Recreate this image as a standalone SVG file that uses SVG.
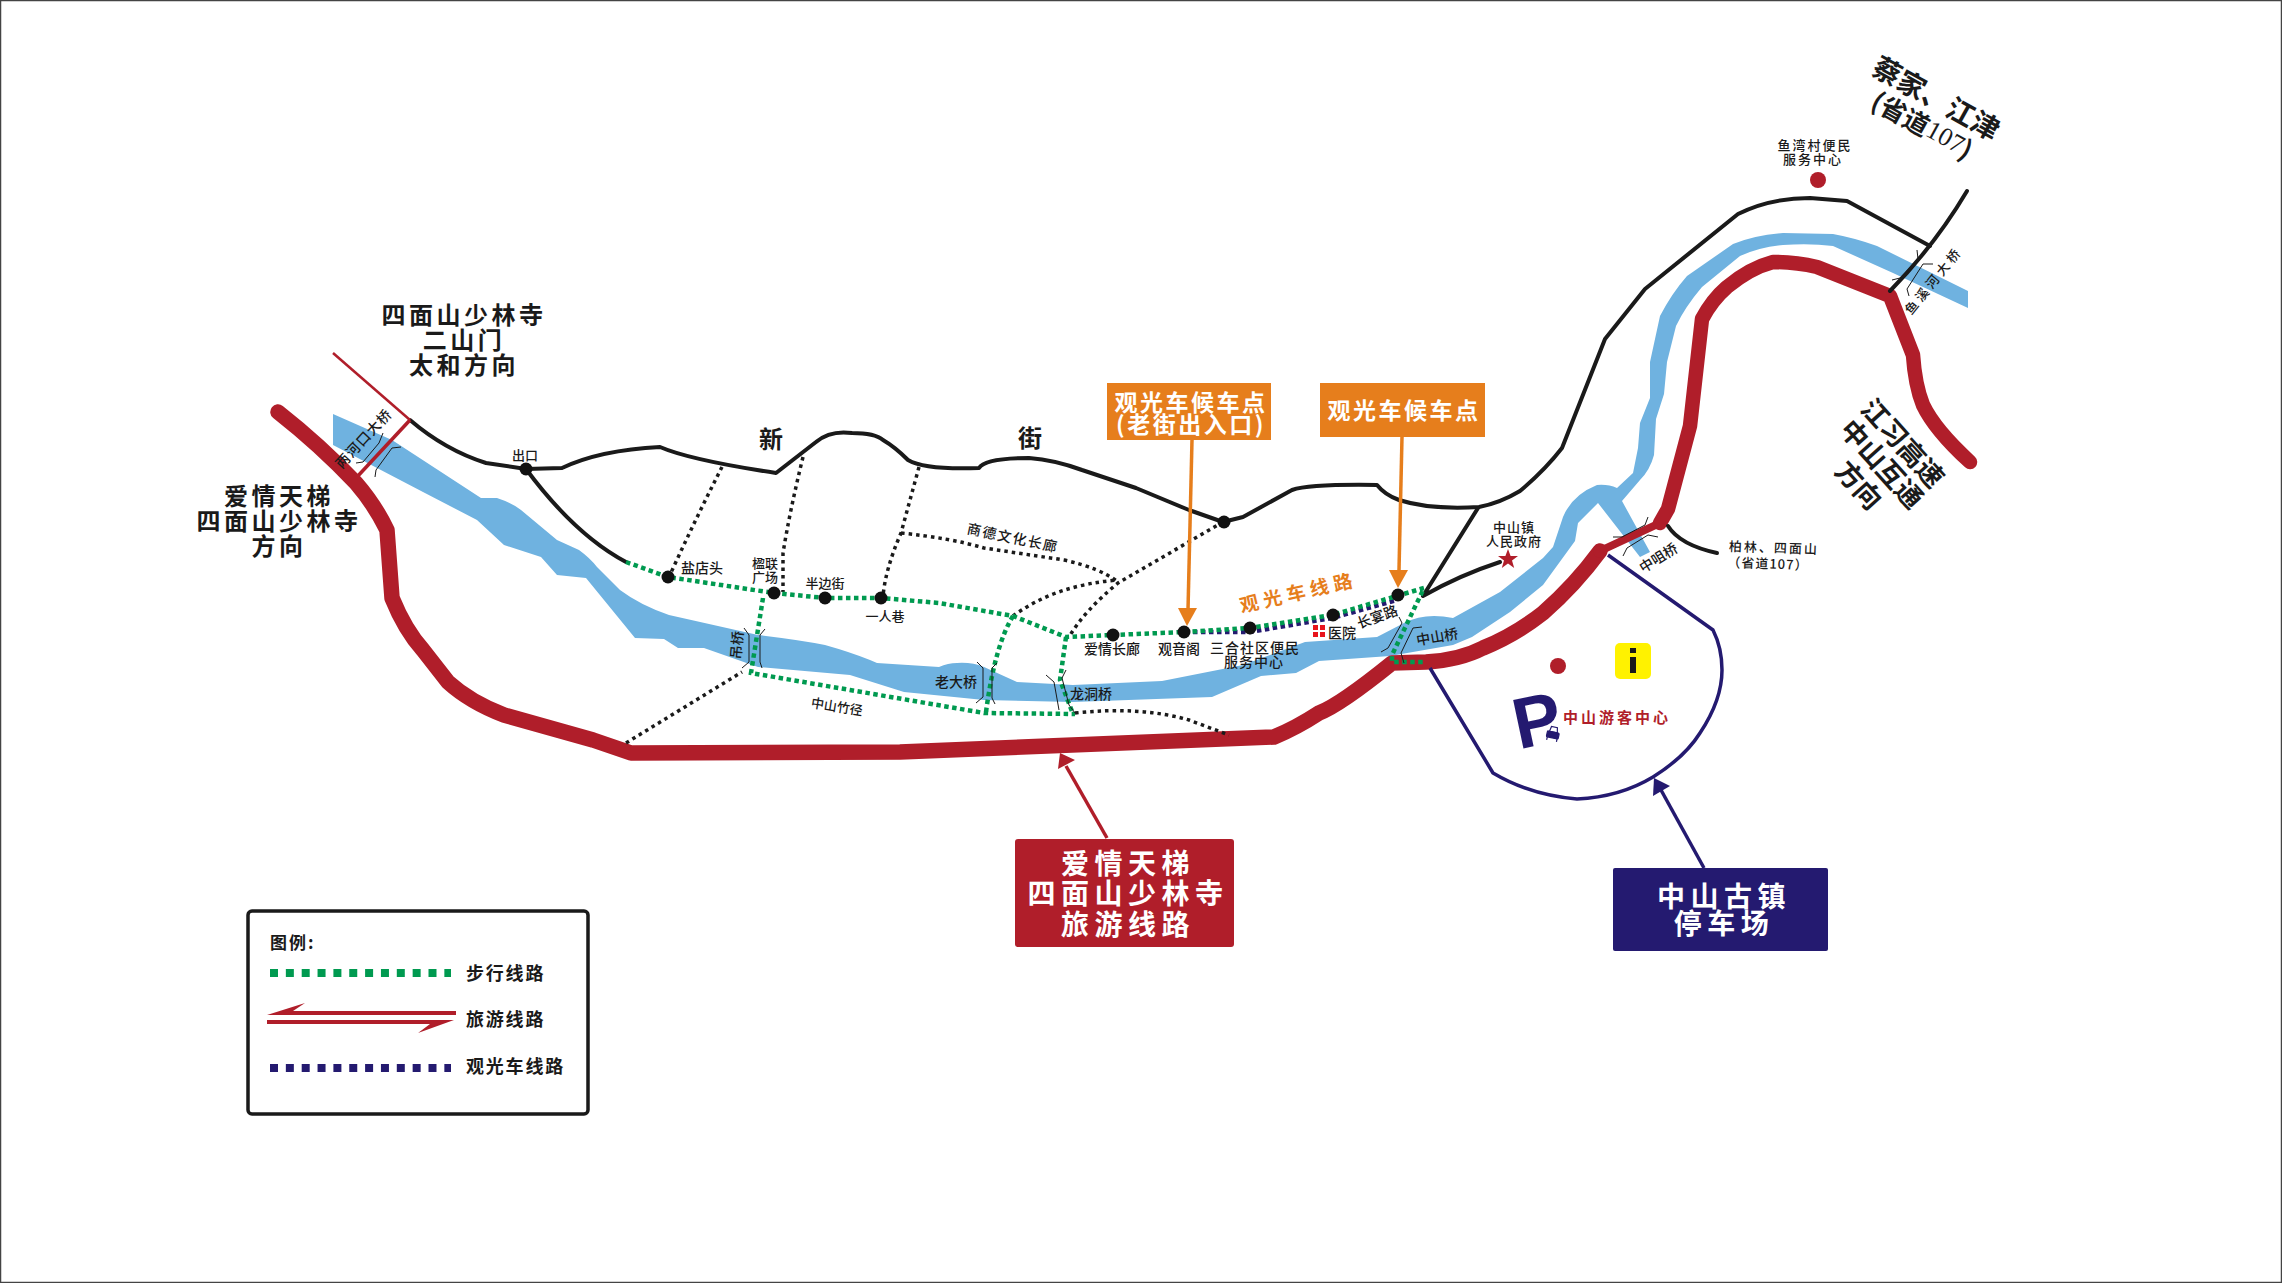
<svg xmlns="http://www.w3.org/2000/svg" width="2282" height="1283" viewBox="0 0 2282 1283">
<style>
text{font-family:"Noto Sans CJK SC","Liberation Sans",sans-serif;text-anchor:middle;dominant-baseline:central;fill:#1a1a1a}
.s{font-weight:500}
.b{font-weight:700}
.w{fill:#fff;font-weight:700}
.l{text-anchor:start;font-weight:700;font-size:18px;letter-spacing:1.8px}
.road{fill:none;stroke:#1a1a1a;stroke-width:4;stroke-linejoin:round;stroke-linecap:round}
.red{fill:none;stroke:#b01e2a;stroke-linejoin:round;stroke-linecap:round}
.gd{fill:none;stroke:#009a50;stroke-width:4.5;stroke-dasharray:4.5 3.5}
.kd{fill:none;stroke:#1a1a1a;stroke-width:3.5;stroke-dasharray:3.5 4}
.nd{fill:none;stroke:#241a70;stroke-width:4.5;stroke-dasharray:4.5 3.5}
.br{fill:none;stroke:#1a1a1a;stroke-width:1}
.n{fill:#111}
.nv{fill:none;stroke:#241a70;stroke-width:3.5;stroke-linejoin:round}
</style>
<rect x="0.5" y="0.5" width="2281" height="1282" fill="#fff" stroke="#444" stroke-width="1.5"/>

<g id="river">
<path fill="#6fb2e0" d="M333,414 L392,440 L481,498 L497,498 Q512,503 521,510 L557,540 L579,550 Q590,558 597,567 L620,590 Q640,605 669,615 L758,635 Q800,640 825,645 Q850,652 870,660 L877,663 L939,667 Q948,663 957,663 Q972,662 984,667 L1017,682 L1073,685 L1162,681 L1243,665 L1305,642 L1377,637 L1404,623 Q1425,612 1453,618 L1500,592 L1543,558 L1553,547 L1563,517 Q1572,495 1597,485 Q1608,484 1617,488 L1633,473 L1638,448 L1640,423 L1650,398 L1650,362 L1660,316 Q1672,293 1687,276 L1733,244 Q1755,235 1783,233 L1833,234 Q1855,238 1877,246 L1968,291 L1968,308 L1893,273 L1833,246 Q1810,243 1783,245 Q1760,247 1740,256 L1702,287 Q1685,307 1676,326 L1667,362 L1664,394 L1656,419 L1654,455 Q1650,470 1640,480 L1622,501 L1650,552 L1640,557 L1598,503 L1578,523 L1575,541 L1543,585 L1510,612 L1472,637 L1453,645 L1390,656 L1319,661 L1296,673 L1261,676 L1212,697 L1073,702 L984,700 L904,692 L850,675 L758,667 L704,648 L678,648 L664,639 L635,638 L586,578 L557,575 L541,557 L504,545 L477,520 L423,492 L333,445 Z"/>
</g>

<g id="connectors">
<path class="red" stroke-width="15.5" stroke-linecap="butt" d="M278,412 Q320,445 356,483 Q375,505 387,530 L392,598 Q405,630 423,650 L448,682 Q470,702 504,715 L593,740 L631,753 L900,752 L1274,737 Q1296,728 1319,713 Q1340,705 1392,663 L1426,662 Q1460,660 1483,648 Q1515,635 1543,613 Q1575,585 1600,551"/>
<path class="red" stroke-width="8" d="M1600,551 L1660,523"/>
<circle cx="1600" cy="551" r="7" fill="#b01e2a"/>
<path class="red" stroke-width="14.5" d="M1660,523 L1668,509 L1690,426 L1702,319 Q1712,300 1727,287 Q1750,268 1773,262 Q1795,262 1817,267 L1890,296 L1913,355 Q1915,385 1923,405 Q1935,430 1970,462"/>
<path class="road" d="M410,420 Q445,450 486,463 L526,469 L562,468 Q600,450 660,447 Q690,460 776,473 L816,442 Q830,430 852,433 Q875,433 883,440 Q895,447 908,460 Q925,470 979,468 Q985,458 1029,458 Q1055,460 1082,470 L1136,488 L1189,510 L1223,522 L1243,517 L1292,490 Q1310,484 1377,485 Q1385,495 1399,500 Q1430,510 1479,507 Q1500,503 1520,491 Q1545,470 1562,448 L1605,339 L1645,289 L1738,214 Q1770,198 1810,198 L1847,201 L1930,246"/>
<path class="road" d="M526,469 Q575,535 626,562"/>
<path class="road" d="M1967,191 Q1935,245 1890,291"/>
<path class="road" d="M1668,526 Q1680,545 1717,553"/>
<path class="road" d="M1478,508 L1423,596 Q1460,575 1500,562"/>
<path d="M333,353 L410,420" stroke="#b01e2a" stroke-width="2.5" fill="none"/>
<path d="M410,420 L356,478" stroke="#b01e2a" stroke-width="3.5" fill="none"/>
<path class="kd" d="M722,467 Q695,520 669,577"/>
<path class="kd" d="M803,457 Q790,510 783,553 L783,592"/>
<path class="kd" d="M919,467 L901,533 Q885,570 883,597"/>
<path class="kd" d="M901,533 Q950,538 984,548 L1064,560 Q1100,568 1118,582"/>
<path class="kd" d="M1223,522 L1118,583 Q1085,610 1069,637"/>
<path class="kd" d="M1013,616 Q1055,585 1118,580"/>
<path class="kd" d="M1075,713 Q1140,706 1189,720 L1229,735"/>
<path class="kd" d="M626,743 L742,672"/>
<path class="nd" d="M1185,632 L1250,632 L1332,618 L1397,600"/>
<path class="gd" d="M626,562 L668,577 L774,593 L825,598 L881,598 L939,603 L1013,616 L1066,637 L1113,635 L1185,632 L1250,628 L1332,615 L1424,588 L1392,655 L1392,662 L1424,662"/>
<path class="gd" d="M763,598 L751,673 L850,690 L984,713 L1075,714"/>
<path class="gd" d="M1013,616 Q995,645 986,712"/>
<path class="gd" d="M1066,637 L1060,680 L1073,714"/>
<path class="br" d="M744,628 L749,635 L749,662 L742,668 M765,629 L760,635 L760,662 L762,668"/>
<path class="br" d="M977,662 L983,668 L983,697 L976,703 M997,663 L992,668 L992,698 L995,704"/>
<path class="br" d="M1046,675 L1054,682 L1059,710 M1066,670 L1062,678 L1069,705 L1075,713"/>
<path class="br" d="M1399,617 L1402,623 L1388,648 L1381,652 M1422,627 L1413,628 L1401,653 L1404,663"/>
<path class="br" d="M383,433 L379,443 L363,462 L356,463 M401,447 L392,448 L376,470 L375,477"/>
<path class="br" d="M1648,517 L1645,525 L1622,537 L1613,537 M1658,537 L1648,535 L1627,548 L1623,556"/>
<path class="br" d="M1917,250 L1918,259 L1900,278 L1892,280 M1933,264 L1923,264 L1907,289 L1909,296"/>
<path d="M1192,440 L1188,610" stroke="#e67e1c" stroke-width="3.5" fill="none"/>
<path d="M1178,608 L1197,608 L1187,626 Z" fill="#e67e1c"/>
<path d="M1402,437 L1399,570" stroke="#e67e1c" stroke-width="3.5" fill="none"/>
<path d="M1389,570 L1408,570 L1398,588 Z" fill="#e67e1c"/>
<path d="M1107,838 L1066,766" stroke="#b01e2a" stroke-width="3.5" fill="none"/>
<path d="M1060,753 L1075,760 L1058,769 Z" fill="#b01e2a"/>
<path d="M1704,868 L1661,790" stroke="#241a70" stroke-width="3.5" fill="none"/>
<path d="M1654,778 L1670,786 L1653,796 Z" fill="#241a70"/>
</g>

<g id="stops">
<circle class="n" cx="526" cy="469" r="6.5"/><circle class="n" cx="668" cy="577" r="6.5"/><circle class="n" cx="774" cy="593" r="6.5"/><circle class="n" cx="825" cy="598" r="6.5"/><circle class="n" cx="881" cy="598" r="6.5"/><circle class="n" cx="1113" cy="635" r="6.5"/><circle class="n" cx="1184" cy="632" r="6.5"/><circle class="n" cx="1250" cy="628" r="6.5"/><circle class="n" cx="1333" cy="615" r="6.5"/><circle class="n" cx="1398" cy="595" r="6.5"/><circle class="n" cx="1224" cy="522" r="6.5"/>
</g>

<g id="labels-small" class="s">
<text x="525" y="454" font-size="13">出口</text>
<text x="702" y="567" font-size="14">盐店头</text>
<text x="765" y="562" font-size="13">楹联</text><text x="765" y="576" font-size="13">广场</text>
<text x="825" y="582" font-size="13">半边街</text>
<text x="885" y="615" font-size="13">一人巷</text>
<text font-size="14" transform="translate(736,645) rotate(-85)">吊桥</text>
<text font-size="13" transform="translate(837,706) rotate(9)">中山竹径</text>
<text font-size="14" letter-spacing="1" transform="translate(363,438) rotate(-47)">两河口大桥</text>
<text font-size="14" letter-spacing="1.5" transform="translate(1013,537) rotate(12)">商德文化长廊</text>
<text x="956" y="681" font-size="14">老大桥</text>
<text x="1091" y="693" font-size="14">龙洞桥</text>
<text x="1112" y="648" font-size="14">爱情长廊</text>
<text x="1179" y="648" font-size="14">观音阁</text>
<text x="1255" y="647" font-size="14" letter-spacing="1">三合社区便民</text>
<text x="1254" y="661" font-size="14" letter-spacing="1">服务中心</text>
<text x="1342" y="632" font-size="14">医院</text>
<text font-size="14" transform="translate(1377,616) rotate(-20)">长宴路</text>
<text font-size="14" transform="translate(1437,636) rotate(-10)">中山桥</text>
<text x="1514" y="526" font-size="13" letter-spacing="1">中山镇</text>
<text x="1514" y="540" font-size="13" letter-spacing="1">人民政府</text>
<text font-size="14" transform="translate(1658,557) rotate(-32)">中咀桥</text>
<text x="1815" y="144" font-size="13" letter-spacing="2">鱼湾村便民</text>
<text x="1813" y="158" font-size="13" letter-spacing="2">服务中心</text>
<text font-size="13" letter-spacing="2" transform="translate(1774,547) rotate(2)">柏林、四面山</text>
<text font-size="13" letter-spacing="1" transform="translate(1768,563) rotate(2)">（省道107）</text>
<text font-size="13" letter-spacing="3.5" transform="translate(1933,280) rotate(-51)">鱼溪河大桥</text>
<g id="hospital" fill="#e8141c"><rect x="1313" y="625" width="5" height="5"/><rect x="1320" y="625" width="5" height="5"/><rect x="1313" y="632" width="5" height="5"/><rect x="1320" y="632" width="5" height="5"/></g>
<path id="star" fill="#b01e2a" d="M1508,549 L1510.6,556 L1518,556 L1512,560.5 L1514.2,568 L1508,563.5 L1501.8,568 L1504,560.5 L1498,556 L1505.4,556 Z"/>
<circle id="fuwu-dot" cx="1818" cy="180" r="8" fill="#b01e2a"/>
</g>

<g id="labels-large">
<text x="464" y="313" font-size="24" class="b" letter-spacing="3.5">四面山少林寺</text>
<text x="464" y="338" font-size="24" class="b" letter-spacing="3.5">二山门</text>
<text x="464" y="363" font-size="24" class="b" letter-spacing="3.5">太和方向</text>
<text x="279" y="494" font-size="24" class="b" letter-spacing="3.5">爱情天梯</text>
<text x="279" y="519" font-size="24" class="b" letter-spacing="3.5">四面山少林寺</text>
<text x="279" y="544" font-size="24" class="b" letter-spacing="3.5">方向</text>
<text x="771" y="437" font-size="24" class="b">新</text>
<text x="1030" y="436" font-size="24" class="b">街</text>
<text font-size="28" class="b" transform="translate(1937,97) rotate(29)">蔡家、江津</text>
<text font-size="26" class="b" transform="translate(1923,124) rotate(29)">(省道<tspan font-family="Liberation Serif" font-weight="400">107</tspan>)</text>
<text font-size="27" class="b" transform="translate(1904,442) rotate(48)">江习高速</text>
<text font-size="27" class="b" transform="translate(1883,463) rotate(48)">中山互通</text>
<text font-size="27" class="b" transform="translate(1860,484) rotate(48)">方向</text>
<text font-size="19" class="b" letter-spacing="5" style="fill:#e67e1c" transform="translate(1298,591) rotate(-13)">观光车线路</text>
</g>

<g id="box-wait-1">
<rect x="1107" y="383" width="164" height="57" fill="#e67e1c"/>
<text class="w" x="1191" y="401" font-size="23" letter-spacing="2.5">观光车候车点</text>
<text class="w" x="1191" y="423" font-size="23" letter-spacing="2.5">(老街出入口)</text>
</g>
<g id="box-wait-2">
<rect x="1320" y="383" width="165" height="54" fill="#e67e1c"/>
<text class="w" x="1404" y="409" font-size="23" letter-spacing="2.5">观光车候车点</text>
</g>
<g id="box-route">
<rect x="1015" y="839" width="219" height="108" rx="3" fill="#b01e2a"/>
<text class="w" x="1128" y="862" font-size="28" letter-spacing="5.5">爱情天梯</text>
<text class="w" x="1128" y="892" font-size="28" letter-spacing="5.5">四面山少林寺</text>
<text class="w" x="1128" y="923" font-size="28" letter-spacing="5.5">旅游线路</text>
</g>
<g id="box-parking">
<rect x="1613" y="868" width="215" height="83" rx="2" fill="#241a70"/>
<text class="w" x="1724" y="895" font-size="28" letter-spacing="5.5">中山古镇</text>
<text class="w" x="1724" y="922" font-size="28" letter-spacing="5.5">停车场</text>
</g>

<g id="parking">
<path class="nv" d="M1430,668 L1493,773 Q1530,795 1577,799 Q1620,797 1653,777 Q1685,757 1700,733 Q1722,700 1722,670 Q1722,648 1713,630 L1608,555"/>
<circle cx="1558" cy="666" r="8" fill="#b01e2a"/>
<rect x="1615" y="643" width="36" height="36" rx="5" fill="#fff200"/>
<rect x="1630" y="648" width="6" height="5" fill="#1a1a1a"/><rect x="1630" y="657" width="6" height="16" fill="#1a1a1a"/>
<text x="1537" y="720" font-size="72" class="b" style="font-family:'Liberation Sans',sans-serif;fill:#241a70" transform="rotate(-12 1537 720)">P</text>
<g id="car" stroke="#241a70" stroke-width="1.2" fill="#fff" transform="rotate(12 1553 734)"><path d="M1549,732 L1550,727 L1556,727 L1557,732 Z"/><rect x="1547" y="732" width="12" height="6" rx="1" fill="#241a70"/><path d="M1548,738 L1548,741 M1558,738 L1558,741"/></g>
<text x="1617" y="716" font-size="15" class="b" letter-spacing="3" style="fill:#b01e2a">中山游客中心</text>
</g>

<g id="legend">
<rect x="248" y="911" width="340" height="203" rx="4" fill="#fff" stroke="#1a1a1a" stroke-width="3.5"/>
<text x="270" y="941" font-size="17" class="b" letter-spacing="2" style="text-anchor:start">图例:</text>
<path d="M270,973 L451,973" stroke="#009a50" stroke-width="8" stroke-dasharray="8 7.85" fill="none"/>
<path d="M270,1068 L451,1068" stroke="#241a70" stroke-width="8" stroke-dasharray="8 7.85" fill="none"/>
<path fill="#b01e2a" d="M305,1003 L293,1011 L456,1011 L456,1015 L267,1015 Z M267,1020 L454,1020 L418,1033 L430,1024 L267,1024 Z"/>
<text x="466" y="972" class="l">步行线路</text>
<text x="466" y="1018" class="l">旅游线路</text>
<text x="466" y="1065" class="l">观光车线路</text>
</g>
</svg>
